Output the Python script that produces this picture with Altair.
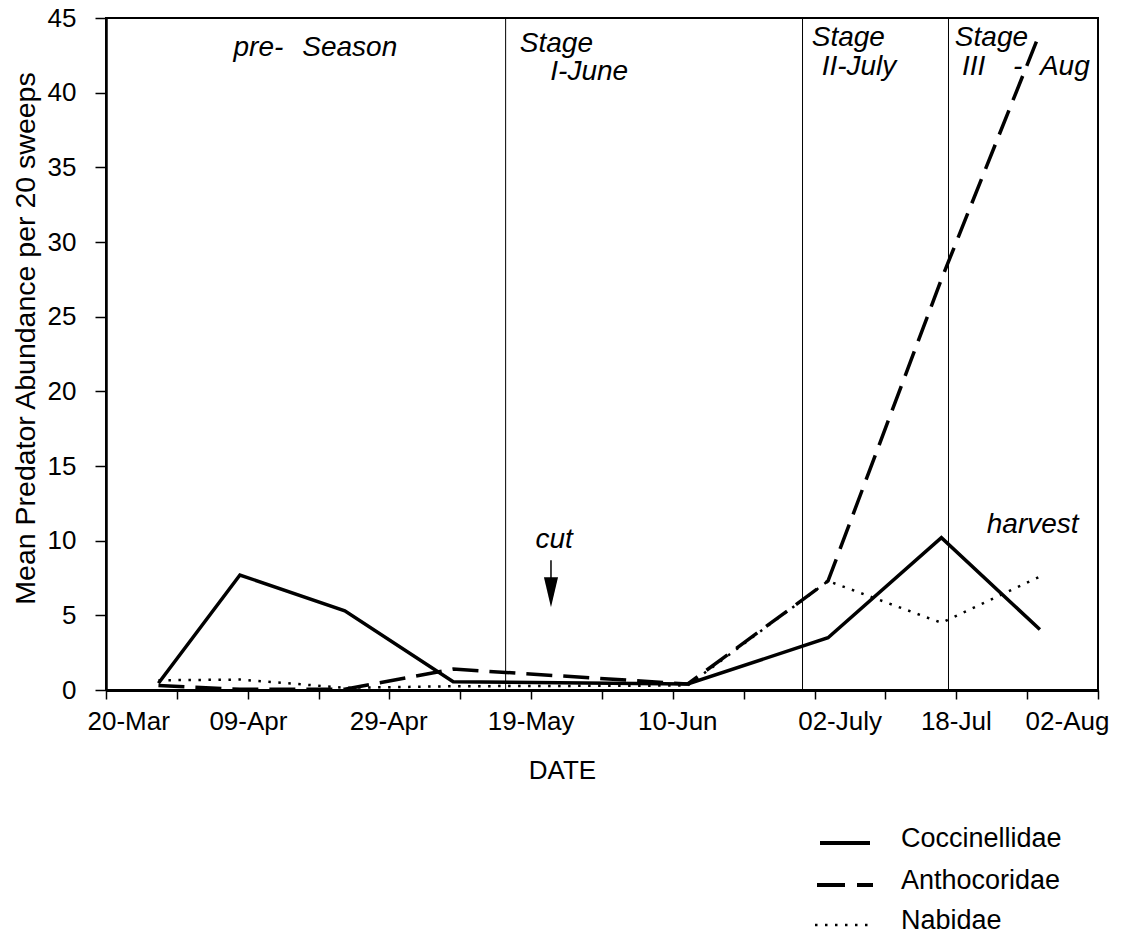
import altair as alt
import pandas as pd

# ---- data (x positions in tick-interval units of the date axis) ----
sample_x = [0.74, 1.89, 3.37, 4.90, 8.21, 10.19, 11.79, 13.18]
coccinellidae = [0.45, 7.7, 5.3, 0.55, 0.4, 3.5, 10.2, 4.05]
anthocoridae = [0.3, 0.05, 0.05, 1.4, 0.4, 7.3, 27.5, 44.0]
nabidae = [0.65, 0.7, 0.15, 0.25, 0.3, 7.3, 4.5, 7.6]

tick_labels = ["20-Mar", "09-Apr", "29-Apr", "19-May", "10-Jun", "02-July", "18-Jul", "02-Aug"]
tick_label_x = [0.32, 2.01, 3.99, 6.0, 8.07, 10.36, 12.0, 13.57]
stage_x = [5.64, 9.83, 11.89]

note_text = ["pre-", "Season", "Stage", "I-June", "Stage", "II-July", "Stage", "III", "-", "Aug", "cut", "harvest"]
note_x = [1.80, 2.77, 5.84, 6.27, 9.96, 10.10, 11.98, 12.08, 12.80, 13.18, 6.06, 12.43]
note_y = [42.45, 42.45, 42.75, 40.85, 43.1, 41.2, 43.1, 41.2, 41.2, 41.2, 9.5, 10.5]

arrow_x = [6.28]
arrow_top = [8.69]
arrow_bottom = [7.35]
arrow_head_y = [6.55]

legend_names = ["Coccinellidae", "Anthocoridae", "Nabidae"]

FONT = "Liberation Sans"
W, H = 992, 672

xs = alt.Scale(domain=[0, 14], nice=False, zero=False)
ys = alt.Scale(domain=[0, 45], nice=False)

x_axis = alt.Axis(values=list(range(15)), labels=False, title="DATE", tickSize=9, tickWidth=1.5,
                  tickColor="black", domainWidth=3, domainColor="black", grid=False,
                  titleFontSize=26, titleFontWeight="normal", titleFont=FONT, titleColor="black",
                  titleX=456, titleY=88, titleBaseline="alphabetic")
y_axis = alt.Axis(values=list(range(0, 46, 5)), title="Mean Predator Abundance per 20 sweeps",
                  tickSize=11, tickWidth=1.5, tickColor="black", domainWidth=2.5, domainColor="black",
                  grid=False, labelFontSize=26, labelFont=FONT, labelColor="black", labelPadding=19,
                  titleFontSize=28.5, titleFontWeight="normal", titleFont=FONT, titleColor="black",
                  titleX=-72, titleY=320, titleBaseline="alphabetic")

X = alt.X("x:Q", scale=xs, axis=x_axis)
Y = alt.Y("y:Q", scale=ys, axis=y_axis)


def sdf(vals):
    return pd.DataFrame({"x": sample_x, "y": vals})


stages = alt.Chart(pd.DataFrame({"x": stage_x})).mark_rule(color="black", strokeWidth=1).encode(x=X)

l_cocc = alt.Chart(sdf(coccinellidae)).mark_line(color="black", strokeWidth=3.5, strokeJoin="miter").encode(x=X, y=Y)
l_antho = alt.Chart(sdf(anthocoridae)).mark_line(color="black", strokeWidth=3.5, strokeDash=[26, 11]).encode(x=X, y=Y)
l_nabid = alt.Chart(sdf(nabidae)).mark_line(color="black", strokeWidth=2.5, strokeDash=[2.5, 7.5]).encode(x=X, y=Y)

notes = alt.Chart(pd.DataFrame({"x": note_x, "y": note_y, "t": note_text})).mark_text(
    font=FONT, fontSize=28, fontStyle="italic", align="left", baseline="alphabetic", color="black"
).encode(x=X, y=Y, text="t:N")

shaft = alt.Chart(pd.DataFrame({"x": arrow_x, "y": arrow_top, "y2": arrow_bottom})).mark_rule(
    color="black", strokeWidth=1.5).encode(x=X, y=Y, y2="y2:Q")
head = alt.Chart(pd.DataFrame({"x": arrow_x, "y": arrow_head_y})).mark_point(
    shape="M-0.47,-1 L0.47,-1 L0,1 Z", filled=True, size=900, color="black", opacity=1, strokeWidth=0
).encode(x=X, y=Y)

xlabels = alt.Chart(pd.DataFrame({"x": tick_label_x, "t": tick_labels})).mark_text(
    font=FONT, fontSize=26, align="center", baseline="alphabetic", color="black"
).encode(x=X, y=alt.value(H + 40), text="t:N")

one = pd.DataFrame({"a": [0]})
leg_solid = alt.Chart(one).mark_rule(color="black", strokeWidth=4).encode(
    x=alt.value(714), x2=alt.value(764), y=alt.value(825))
leg_dash = alt.Chart(one).mark_rule(color="black", strokeWidth=4, strokeDash=[28, 12]).encode(
    x=alt.value(711), x2=alt.value(767), y=alt.value(867))
leg_dot = alt.Chart(one).mark_rule(color="black", strokeWidth=2.5, strokeDash=[2.5, 7.5]).encode(
    x=alt.value(709), x2=alt.value(765), y=alt.value(907))
leg_text = alt.Chart(pd.DataFrame({"t": legend_names, "yy": [829, 871, 911]})).mark_text(
    font=FONT, fontSize=27, align="left", baseline="alphabetic", color="black"
).encode(x=alt.value(795), y=alt.Y("yy:Q", scale=None, axis=None), text="t:N")

chart = alt.layer(
    stages, l_nabid, l_antho, l_cocc, notes, shaft, head, xlabels,
    leg_solid, leg_dash, leg_dot, leg_text
).properties(
    width=W, height=H,
    padding={"left": 98, "top": 10, "right": 19, "bottom": 245},
    autosize=alt.AutoSizeParams(type="none"),
    background="white",
).configure_view(stroke="black", strokeWidth=2)

chart.save("out.html", embed_options={"renderer": "svg", "actions": False})
